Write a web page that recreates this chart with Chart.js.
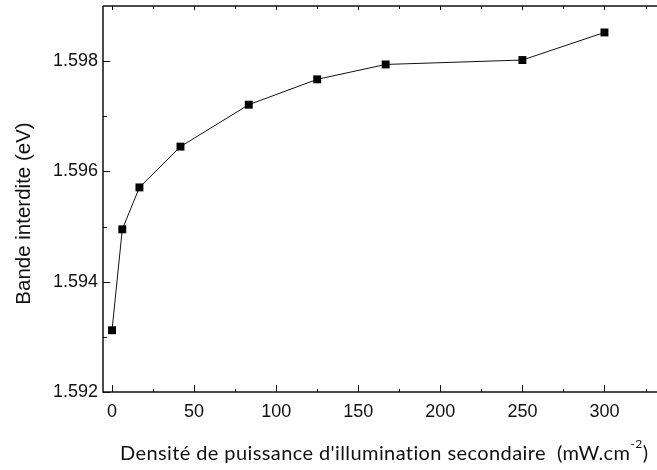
<!DOCTYPE html>
<html>
<head>
<meta charset="utf-8">
<script src="https://cdn.jsdelivr.net/npm/chart.js@4/dist/chart.umd.min.js"></script>
<style>
  html, body { margin: 0; padding: 0; background: #fff; }
  #wrap { width: 657px; height: 470px; position: relative; }
</style>
</head>
<body>
<div id="wrap"><canvas id="c"></canvas></div>
<script>
// Secondary illumination power density (mW.cm-2) and measured band gap (eV)
const powerDensity = [0, 6.25, 16.7, 41.7, 83.3, 125, 166.7, 250, 300];
const bandGap = [1.59312, 1.59495, 1.59571, 1.59645, 1.59721, 1.59767, 1.59794, 1.59802, 1.59852];

// Axis ticks
const xMajorTicks = [0, 50, 100, 150, 200, 250, 300];
const xMinorTicks = [25, 75, 125, 175, 225, 275, 325];
const yMajorTicks = [1.592, 1.594, 1.596, 1.598];
const yMinorTicks = [1.593, 1.595, 1.597];

const xTitle = "Densit\u00e9 de puissance d'illumination secondaire  (mW.cm";
const xTitleSup = "-2";
const xTitleEnd = ")";
const yTitle = "Bande interdite (eV)";

const INK = '#111';

// Frame, inward tick marks and axis titles
const framePlugin = {
  id: 'frame',
  afterDraw(chart) {
    const { ctx, chartArea: a, scales: { x, y } } = chart;
    ctx.save();
    ctx.strokeStyle = INK;
    ctx.lineWidth = 1.5;
    ctx.beginPath();
    ctx.moveTo(a.left, a.top);
    ctx.lineTo(a.right, a.top);
    ctx.moveTo(a.left, a.top);
    ctx.lineTo(a.left, a.bottom);
    ctx.lineTo(a.right, a.bottom);
    ctx.stroke();

    ctx.lineWidth = 1;
    ctx.beginPath();
    const xt = (v, len, lenTop) => {
      const px = Math.round(x.getPixelForValue(v)) + 0.5;
      if (px < a.left || px > a.right) return;
      ctx.moveTo(px, a.bottom);
      ctx.lineTo(px, a.bottom - len);
      ctx.moveTo(px, a.top);
      ctx.lineTo(px, a.top + lenTop);
    };
    xMajorTicks.forEach(v => xt(v, 7, 4));
    xMinorTicks.forEach(v => xt(v, 3, 3));
    const yt = (v, len) => {
      const py = Math.round(y.getPixelForValue(v)) + 0.5;
      ctx.moveTo(a.left, py);
      ctx.lineTo(a.left + len, py);
    };
    yMajorTicks.forEach(v => yt(v, 7));
    yMinorTicks.forEach(v => yt(v, 4));
    ctx.stroke();

    // y title
    ctx.fillStyle = INK;
    ctx.font = '20.5px "Liberation Sans", Arial, sans-serif';
    ctx.textAlign = 'center';
    ctx.textBaseline = 'middle';
    ctx.save();
    ctx.translate(24, 213.5);
    ctx.rotate(-Math.PI / 2);
    ctx.fillText(yTitle, 0, 0);
    ctx.restore();

    // x title with superscript
    ctx.textAlign = 'left';
    ctx.textBaseline = 'alphabetic';
    ctx.letterSpacing = '0.4px';
    const base = 460;
    let cx = 120;
    ctx.font = '20px Lato, "Noto Sans", sans-serif';
    ctx.fillText(xTitle, cx, base);
    cx += ctx.measureText(xTitle).width;
    ctx.font = '12px Lato, "Noto Sans", sans-serif';
    ctx.fillText(xTitleSup, cx, base - 12);
    cx += ctx.measureText(xTitleSup).width;
    ctx.font = '20px Lato, "Noto Sans", sans-serif';
    ctx.fillText(xTitleEnd, cx, base);
    ctx.restore();
  }
};

new Chart(document.getElementById('c'), {
  type: 'line',
  data: {
    datasets: [{
      data: powerDensity.map((v, i) => ({ x: v, y: bandGap[i] })),
      borderColor: INK,
      borderWidth: 1,
      backgroundColor: '#000',
      pointStyle: 'rect',
      pointRadius: 5.6,
      pointBorderWidth: 0,
      pointBackgroundColor: '#000',
      tension: 0,
      clip: false
    }]
  },
  options: {
    responsive: true,
    maintainAspectRatio: false,
    animation: false,
    layout: { autoPadding: false, padding: { top: 6, right: 0, left: 0, bottom: 0 } },
    plugins: { legend: { display: false }, tooltip: { enabled: false } },
    scales: {
      x: {
        type: 'linear',
        min: -5.5,
        max: 332,
        afterBuildTicks: s => { s.ticks = xMajorTicks.map(v => ({ value: v })); },
        afterFit: s => { s.height = 78; s.paddingLeft = 0; s.paddingRight = 0; },
        grid: { display: false, drawTicks: false },
        border: { display: false },
        ticks: {
          padding: 9,
          color: INK,
          maxRotation: 0,
          autoSkip: false,
          font: { family: '"Liberation Sans", Arial, sans-serif', size: 18 }
        }
      },
      y: {
        type: 'linear',
        min: 1.592,
        max: 1.599,
        afterBuildTicks: s => { s.ticks = yMajorTicks.map(v => ({ value: v })); },
        afterFit: s => { s.width = 103; s.paddingTop = 0; s.paddingBottom = 0; },
        grid: { display: false, drawTicks: false },
        border: { display: false },
        ticks: {
          padding: 5,
          color: INK,
          autoSkip: false,
          callback: v => v.toFixed(3),
          font: { family: '"Liberation Sans", Arial, sans-serif', size: 18 }
        }
      }
    }
  },
  plugins: [framePlugin]
});
</script>
</body>
</html>
